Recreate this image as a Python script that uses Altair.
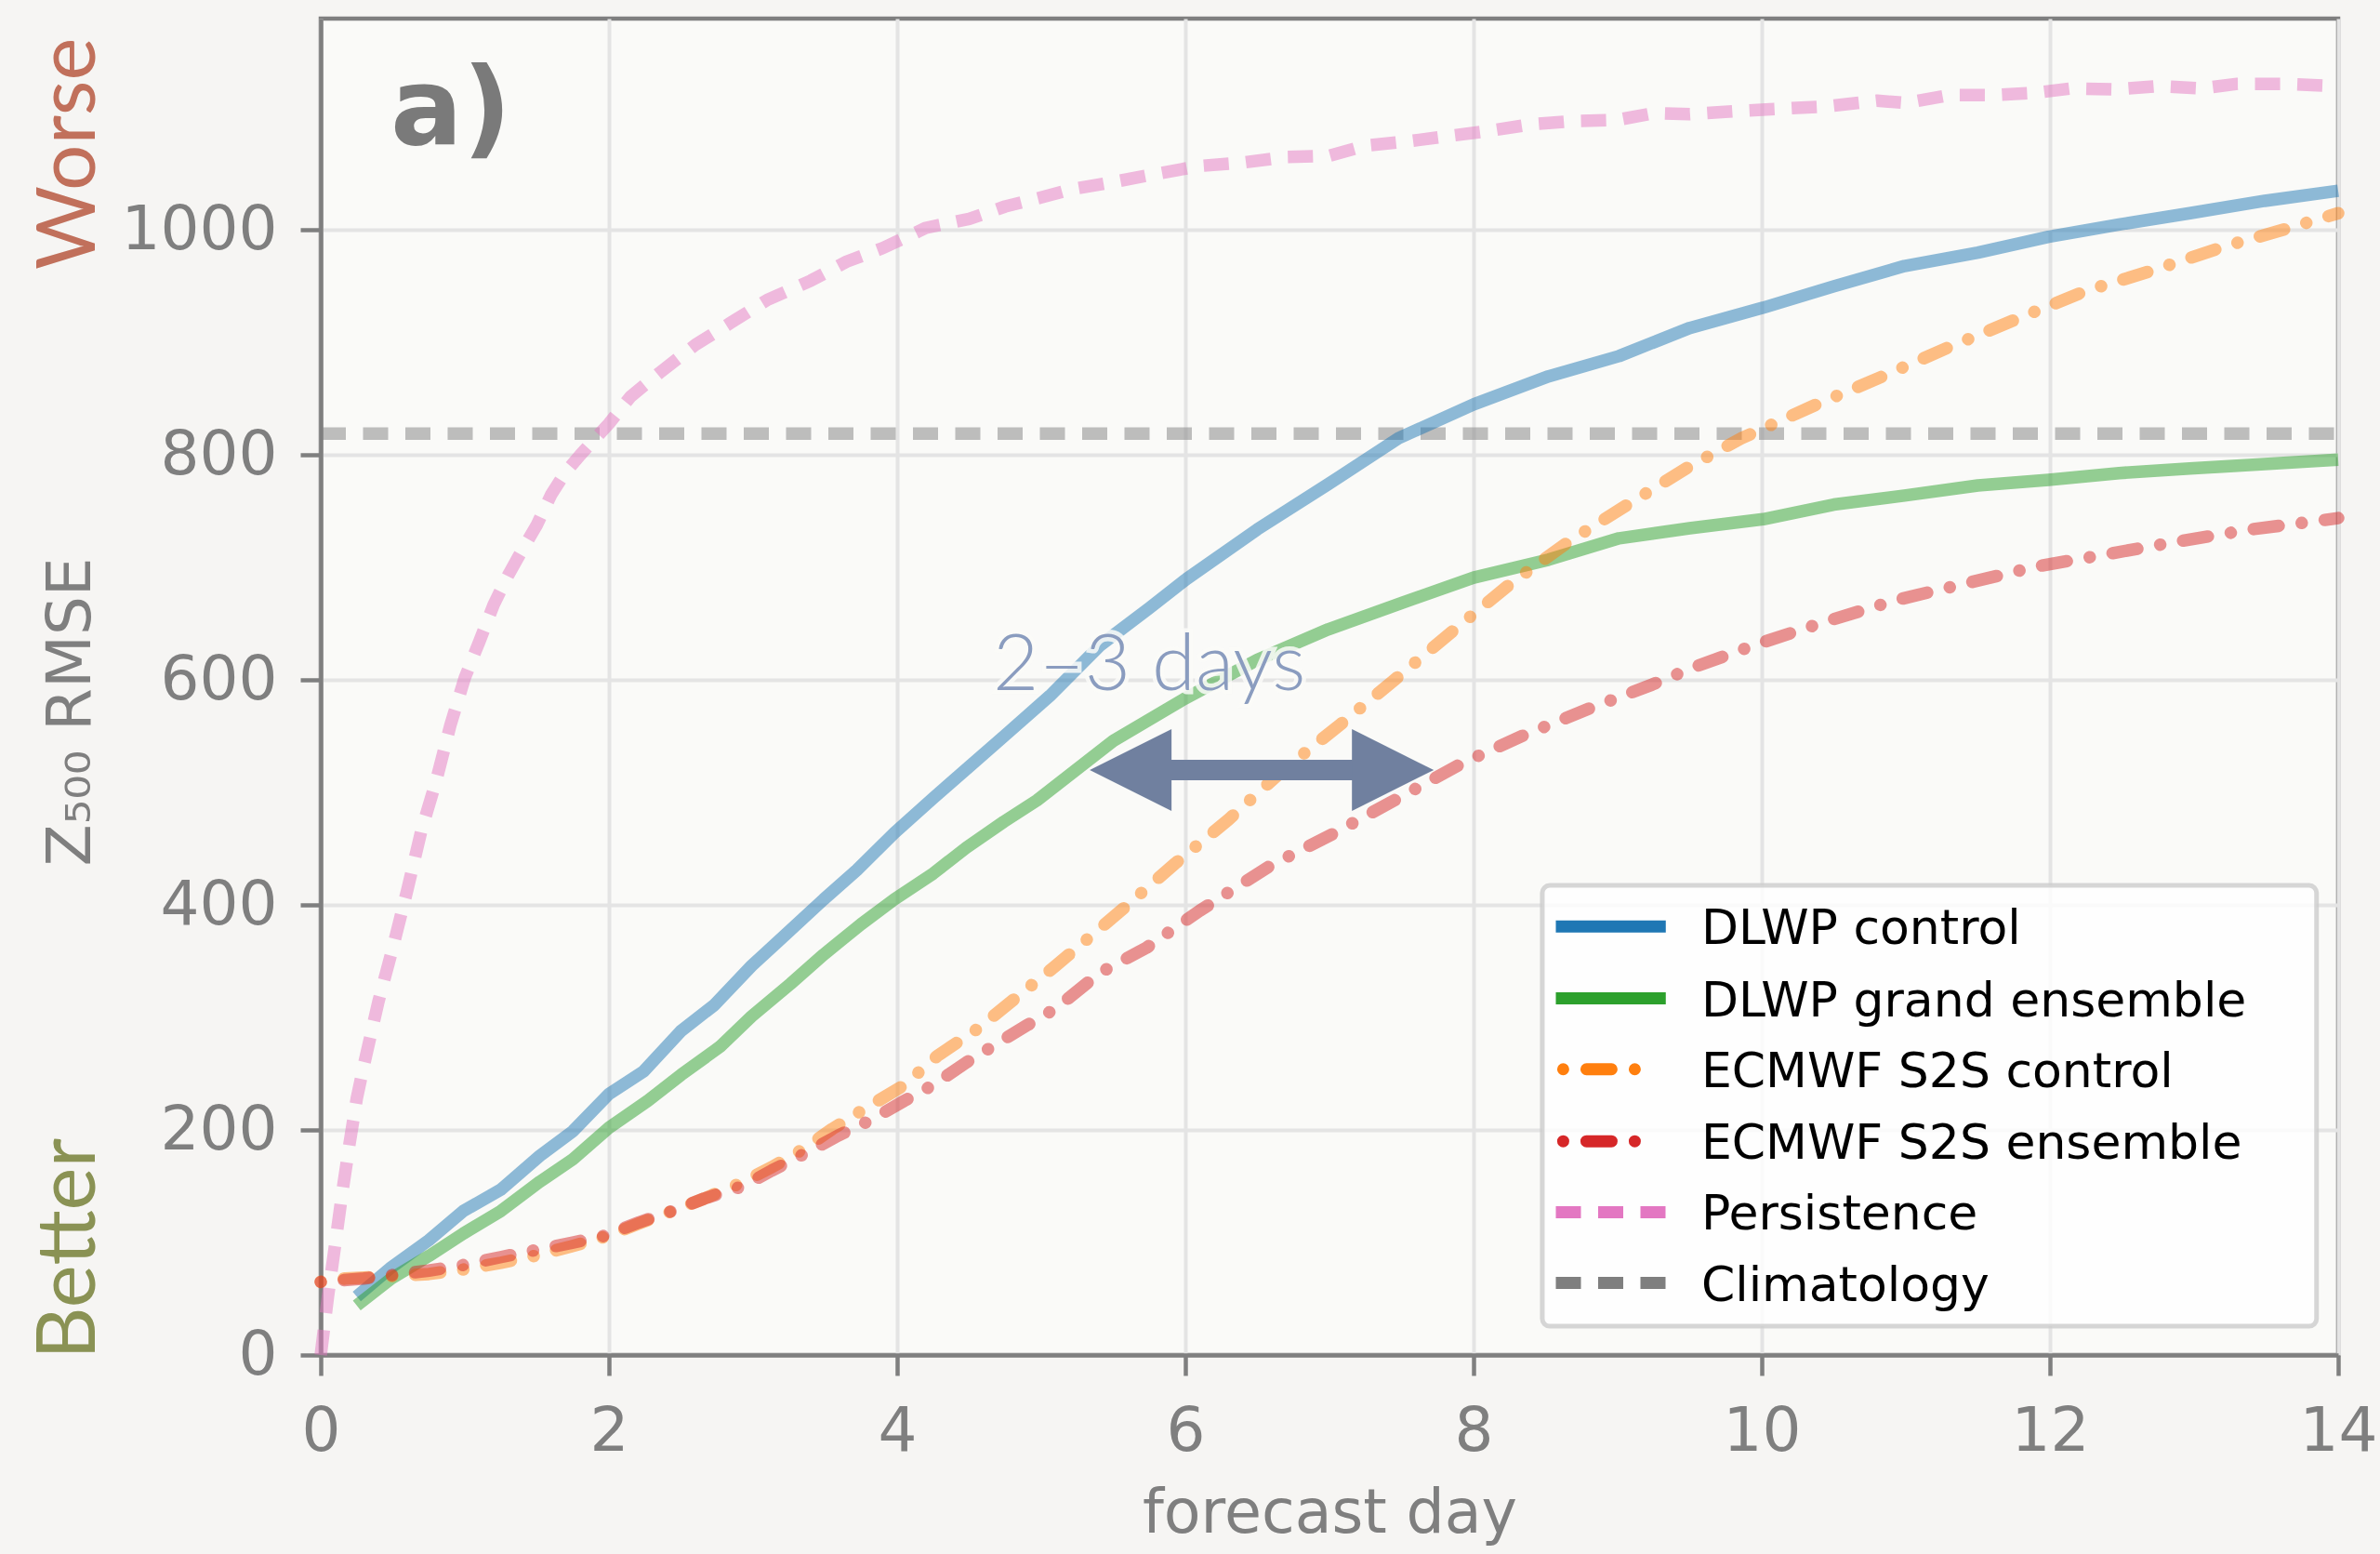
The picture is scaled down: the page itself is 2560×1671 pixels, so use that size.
import altair as alt
import pandas as pd

# ---- Z500 RMSE by forecast lead time (days) ----
dlwp_control_day = [0.25, 0.49, 0.75, 0.99, 1.25, 1.52, 1.75, 2.0, 2.24, 2.5, 2.73, 2.99, 3.22, 3.49,
                    3.72, 3.98, 4.25, 4.5, 4.75, 5.06, 5.41, 5.75, 6.01, 6.5, 6.99, 7.48, 8.0, 8.52,
                    9.01, 9.5, 10.01, 10.5, 10.99, 11.5, 11.99, 12.48, 12.97, 13.49, 14.0]
dlwp_control_rmse = [52, 78, 102, 128, 147, 177, 199, 232, 252, 288, 311, 346, 373, 405,
                     431, 464, 495, 523, 551, 586, 631, 664, 690, 734, 774, 815, 845, 870,
                     888, 913, 931, 950, 968, 980, 994, 1005, 1015, 1026, 1035]

dlwp_grand_day = [0.25, 0.49, 0.75, 0.99, 1.25, 1.52, 1.75, 2.0, 2.27, 2.5, 2.77, 2.99, 3.26, 3.49,
                  3.75, 3.98, 4.25, 4.48, 4.74, 4.97, 5.5, 5.99, 6.5, 6.99, 7.51, 8.0, 8.52, 9.01,
                  9.5, 10.01, 10.5, 10.99, 11.5, 11.99, 12.48, 12.97, 13.49, 14.0]
dlwp_grand_rmse = [44, 68, 88, 108, 128, 154, 174, 202, 226, 249, 274, 301, 330, 356,
                   383, 405, 428, 451, 474, 493, 546, 583, 618, 645, 669, 691, 707, 726,
                   735, 743, 756, 764, 773, 778, 784, 788, 792, 796]

ecmwf_control_day = [0.0, 0.17, 0.49, 0.75, 0.99, 1.25, 1.48, 1.75, 1.97, 2.21, 2.44, 2.66, 2.9, 3.13,
                     3.36, 3.55, 3.79, 4.05, 4.28, 4.57, 4.81, 5.1, 5.35, 5.58, 5.93, 6.3, 6.68, 7.08,
                     7.45, 7.86, 8.25, 8.66, 9.07, 9.5, 9.86, 10.38, 10.84, 11.3, 11.79, 12.25, 12.71,
                     13.2, 13.69, 14.0]
ecmwf_control_rmse = [65, 68, 70, 72, 76, 82, 88, 97, 105, 117, 128, 139, 152, 167,
                      184, 201, 220, 240, 266, 291, 316, 346, 373, 398, 437, 476, 520, 561,
                      600, 644, 685, 723, 756, 790, 815, 845, 870, 896, 922, 946, 964,
                      985, 1003, 1015]

ecmwf_ens_day = [0.0, 0.3, 0.75, 0.99, 1.25, 1.48, 1.75, 1.97, 2.21, 2.44, 2.66, 2.93, 3.13, 3.36,
                 3.59, 3.82, 4.05, 4.25, 4.48, 4.67, 4.9, 5.1, 5.41, 5.73, 6.1, 6.59, 7.02, 7.45,
                 7.92, 8.35, 8.81, 9.24, 9.52, 9.97, 10.47, 10.93, 11.42, 11.91, 12.4, 12.88,
                 13.4, 13.89, 14.0]
ecmwf_ens_rmse = [65, 68, 75, 80, 87, 93, 100, 106, 118, 128, 139, 150, 164, 179,
                  195, 209, 226, 240, 260, 275, 293, 308, 340, 362, 395, 435, 463, 493,
                  526, 551, 575, 596, 611, 632, 653, 671, 686, 701, 712, 723,
                  734, 742, 744]

persistence_day = [0.0, 0.05, 0.1, 0.15, 0.2, 0.25, 0.3, 0.4, 0.5, 0.6, 0.7, 0.8, 0.9, 1.0, 1.1, 1.2,
                   1.3, 1.4, 1.5, 1.6, 1.7, 1.8, 1.9, 2.0, 2.15, 2.35, 2.6, 2.85, 3.1, 3.4, 3.65, 3.9,
                   4.2, 4.5, 4.75, 5.0, 5.2, 5.47, 5.8, 6.1, 6.4, 6.7, 7.0, 7.25, 7.55, 7.85, 8.1,
                   8.4, 8.7, 9.0, 9.25, 9.5, 9.85, 10.15, 10.45, 10.8, 11.0, 11.3, 11.6, 11.9, 12.15,
                   12.45, 12.75, 13.05, 13.3, 13.6, 14.0]
persistence_rmse = [0, 52, 98, 145, 188, 228, 258, 314, 362, 413, 467, 510, 560, 602, 634, 667,
                    693, 716, 738, 765, 785, 800, 814, 828, 852, 873, 898, 918, 938, 955, 972, 984,
                    1002, 1010, 1021, 1029, 1036, 1042, 1050, 1057, 1060, 1065, 1066, 1075, 1079, 1084, 1088,
                    1094, 1097, 1098, 1104, 1103, 1106, 1108, 1110, 1115, 1113, 1120, 1120, 1122, 1126,
                    1125, 1128, 1126, 1130, 1130, 1128]

climatology_day = [0.0, 14.0]
climatology_rmse = [819, 819]

# ---- legend entries (label, colour, dash pattern, cap) ----
legend_labels = ["DLWP control", "DLWP grand ensemble", "ECMWF S2S control",
                 "ECMWF S2S ensemble", "Persistence", "Climatology"]
legend_colors = ["#1f77b4", "#2ca02c", "#ff7f0e", "#d62728", "#e377c2", "#7f7f7f"]

SOLID = [1, 0]
DASH_DOT = [0.01, 25, 27, 25]
DASHED = [27, 18.5]
legend_dashes = [SOLID, SOLID, DASH_DOT, DASH_DOT, DASHED, DASHED]
legend_caps = ["butt", "butt", "round", "round", "butt", "butt"]

# ---- annotation values ----
arrow_left_day, arrow_right_day, arrow_rmse = 5.62, 7.44, 520
gap_label = "2\u20133 days"
gap_label_day, gap_label_rmse = 5.75, 591

AXIS_GREY = "#7f7f7f"
PLOT_BG = "#fafaf8"
W, H = 2170, 1437
LINE_W = 13.5

xs = alt.Scale(domain=[0, 14], nice=False, zero=False)
ys = alt.Scale(domain=[0, 1188], nice=False, zero=False)

x_axis = alt.Axis(
    values=list(range(0, 15, 2)), format="d",
    labelFont="DejaVu Sans", labelFontSize=66, labelColor=AXIS_GREY, labelPadding=28,
    labelFlush=False, tickColor=AXIS_GREY, tickSize=22, tickWidth=4.5,
    domainColor=AXIS_GREY, domainWidth=4.5,
    grid=True, gridColor="#e4e4e4", gridWidth=4,
    title="forecast day", titleFont="DejaVu Sans", titleFontSize=65,
    titleFontWeight="normal", titleColor=AXIS_GREY, titleY=190, titleBaseline="alphabetic",
)
y_axis = alt.Axis(
    values=list(range(0, 1001, 200)), format="d",
    labelFont="DejaVu Sans", labelFontSize=66, labelColor=AXIS_GREY, labelPadding=25,
    labelFlush=False, tickColor=AXIS_GREY, tickSize=22, tickWidth=4.5,
    domainColor=AXIS_GREY, domainWidth=4.5,
    grid=True, gridColor="#e4e4e4", gridWidth=4,
    title="Z\u2085\u2080\u2080 RMSE", titleFont="DejaVu Sans", titleFontSize=66,
    titleFontWeight="normal", titleColor=AXIS_GREY, titleAngle=270,
    titleX=-249, titleY=745, titleAlign="center", titleBaseline="alphabetic",
)


def X(field="day"):
    return alt.X(f"{field}:Q", scale=xs, axis=x_axis)


def Y(field="rmse"):
    return alt.Y(f"{field}:Q", scale=ys, axis=y_axis)


def frame(days, values):
    return pd.DataFrame({"day": days, "rmse": values})


layers = []

# forecast curves, drawn at half opacity
curves = [
    (climatology_day, climatology_rmse, legend_colors[5], DASHED, "butt"),
    (dlwp_control_day, dlwp_control_rmse, legend_colors[0], SOLID, "butt"),
    (dlwp_grand_day, dlwp_grand_rmse, legend_colors[1], SOLID, "butt"),
    (ecmwf_control_day, ecmwf_control_rmse, legend_colors[2], DASH_DOT, "round"),
    (ecmwf_ens_day, ecmwf_ens_rmse, legend_colors[3], DASH_DOT, "round"),
    (persistence_day, persistence_rmse, legend_colors[4], DASHED, "butt"),
]
for days, vals, col, dash, cap in curves:
    mark_kw = dict(color=col, strokeWidth=LINE_W, opacity=0.5, strokeCap=cap, strokeJoin="round")
    if dash is not SOLID:
        mark_kw["strokeDash"] = dash
    layers.append(alt.Chart(frame(days, vals)).mark_line(**mark_kw).encode(x=X(), y=Y()))

# double-headed arrow marking the lead-time gain
ARROW_COL = "#70809f"
shaft = pd.DataFrame({"day": [arrow_left_day], "day2": [arrow_right_day], "rmse": [arrow_rmse]})
layers.append(
    alt.Chart(shaft).mark_rule(color=ARROW_COL, strokeWidth=22, strokeCap="butt")
    .encode(x=X(), x2="day2:Q", y=Y())
)
heads = pd.DataFrame({"day": [arrow_left_day, arrow_right_day], "rmse": [arrow_rmse, arrow_rmse],
                      "side": ["left", "right"]})
for side, path in [("left", "M -1 0 L 1 -1 L 1 1 Z"), ("right", "M 1 0 L -1 -1 L -1 1 Z")]:
    layers.append(
        alt.Chart(heads[heads.side == side]).mark_point(
            shape=path, filled=True, size=7744, color=ARROW_COL, opacity=1, strokeWidth=0
        ).encode(x=X(), y=Y())
    )

# "2–3 days" label with a soft halo
gap_df = pd.DataFrame({"day": [gap_label_day], "rmse": [gap_label_rmse], "txt": [gap_label]})
text_kw = dict(font="Lato", fontWeight=300, fontSize=85, align="center", baseline="alphabetic")
layers.append(
    alt.Chart(gap_df).mark_text(color=PLOT_BG, stroke=PLOT_BG, strokeWidth=9, strokeOpacity=0.85,
                                **text_kw)
    .encode(x=X(), y=Y(), text="txt:N")
)
layers.append(
    alt.Chart(gap_df).mark_text(color="#8a9cbf", **text_kw).encode(x=X(), y=Y(), text="txt:N")
)

# panel tag
tag_df = pd.DataFrame({"day": [0.484], "rmse": [1076], "txt": ["a)"]})
layers.append(
    alt.Chart(tag_df).mark_text(font="DejaVu Sans", fontWeight="bold", fontSize=115,
                                color="#7a7a7a", align="left", baseline="alphabetic")
    .encode(x=X(), y=Y(), text="txt:N")
)

# Worse / Better cues beside the y axis
cue_df = pd.DataFrame({"rmse": [1171, -4], "txt": ["Worse", "Better"],
                       "col": ["#c1705b", "#8a9254"], "al": ["right", "left"]})
for i in range(len(cue_df)):
    row = cue_df.iloc[[i]]
    layers.append(
        alt.Chart(row).mark_text(font="Lato", fontWeight=400, fontSize=87, angle=270,
                                 align=row["al"].iloc[0], baseline="alphabetic",
                                 color=row["col"].iloc[0])
        .encode(x=alt.value(-243), y=Y(), text="txt:N")
    )

# legend box
box = pd.DataFrame({"day": [8.477], "day2": [13.85], "rmse": [417.4], "rmse2": [25.6]})
layers.append(
    alt.Chart(box).mark_rect(fill="#ffffff", fillOpacity=0.8, stroke="#cccccc", strokeOpacity=0.8,
                             strokeWidth=5, cornerRadius=8)
    .encode(x=X(), x2="day2:Q", y=Y(), y2="rmse2:Q")
)

legend_rows = [381, 317, 254, 190, 127, 64]
for lab, col, dash, cap, ry in zip(legend_labels, legend_colors, legend_dashes, legend_caps, legend_rows):
    if dash is DASH_DOT:
        x0, x1 = 8.622, 9.13
    else:
        x0, x1 = 8.571, 9.334
    seg = pd.DataFrame({"day": [x0], "day2": [x1], "rmse": [ry]})
    rule_kw = dict(color=col, strokeWidth=13, strokeCap=cap)
    if dash is not SOLID:
        rule_kw["strokeDash"] = dash
    layers.append(alt.Chart(seg).mark_rule(**rule_kw).encode(x=X(), x2="day2:Q", y=Y()))

legend_df = pd.DataFrame({"day": [9.58] * len(legend_labels), "rmse": legend_rows, "txt": legend_labels})
layers.append(
    alt.Chart(legend_df).mark_text(font="DejaVu Sans", fontSize=52, color="#000000",
                                   align="left", baseline="middle", dy=3)
    .encode(x=X(), y=Y(), text="txt:N")
)

chart = (
    alt.layer(*layers)
    .properties(
        width=W, height=H, background="#f6f5f3",
        padding={"left": 345, "top": 20, "right": 45, "bottom": 214},
        autosize=alt.AutoSizeParams(type="none"),
    )
    .configure_view(fill=PLOT_BG, stroke=AXIS_GREY, strokeWidth=4.5)
)

chart.save("out.html", embed_options={"renderer": "svg", "actions": False})
